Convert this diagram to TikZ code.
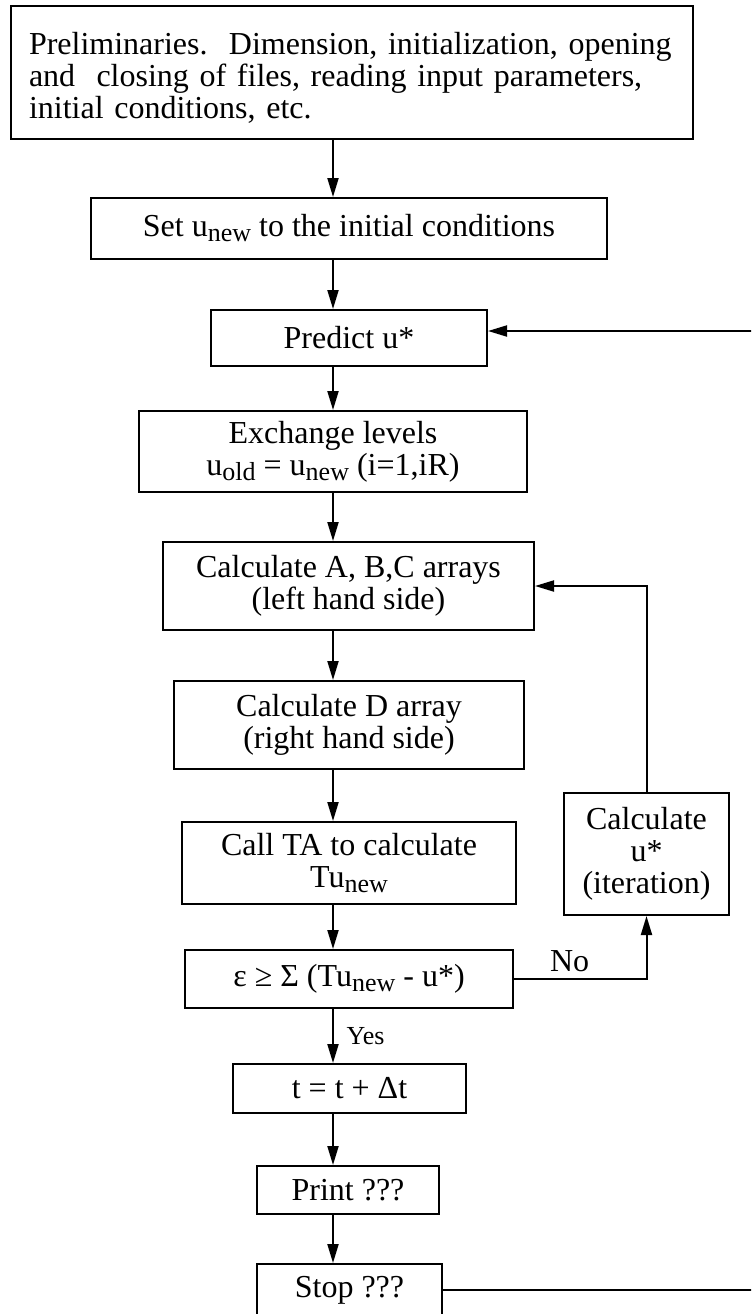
\documentclass[tikz,border=0pt]{standalone}
\usepackage{fontspec}
\setmainfont{Liberation Serif}
\usetikzlibrary{arrows.meta}

% lowered index, as in u_new
\newcommand\lo[1]{\raisebox{-2.5pt}{\fontsize{13}{13}\selectfont #1}}

\begin{document}
\begin{tikzpicture}[x=0.5pt,y=-0.5pt,line width=1pt,
  >={Triangle[length=9.5pt,width=5.5pt]},
  flow box/.style={draw,inner sep=0pt,align=center,font=\fontsize{16}{16}\selectfont},
  small label/.style={font=\fontsize{13}{13}\selectfont}]

  \useasboundingbox (0,0) rectangle (751,1314);
  \clip (0,0) rectangle (751,1314);
  \coordinate (axis) at (333,0);

  \node[flow box,minimum width=341pt,minimum height=66.5pt,text width=323pt,text height=16pt,align=left] (prelim) at (352,72.5)
    {Preliminaries.\ \ Dimension, initialization, opening\\
     and\ \ closing of files, reading input parameters,\\
     initial conditions, etc.};
  \node[flow box,minimum width=258pt,minimum height=30.5pt] (setu) at (349,228.5)
    {Set u\lo{new} to the initial conditions};
  \node[flow box,minimum width=138pt,minimum height=28pt] (predict) at (349,338) {Predict u*};
  \node[flow box,minimum width=194pt,minimum height=40.5pt] (exch) at (333,451.5)
    {Exchange levels\\u\lo{old} = u\lo{new} (i=1,iR)};
  \node[flow box,minimum width=185.5pt,minimum height=44pt] (abc) at (348.5,586)
    {Calculate A, B,C arrays\\(left hand side)};
  \node[flow box,minimum width=175pt,minimum height=44pt] (darr) at (349,725)
    {Calculate D array\\(right hand side)};
  \node[flow box,minimum width=167pt,minimum height=41pt] (callta) at (349,863)
    {Call TA to calculate\\Tu\lo{new}};
  \node[flow box,minimum width=164pt,minimum height=29pt] (test) at (349,979)
    {ε ≥ Σ (Tu\lo{new} - u*)};
  \node[flow box,minimum width=116.5pt,minimum height=24.5pt] (tstep) at (349.5,1088.5) {t = t + Δt};
  \node[flow box,minimum width=91pt,minimum height=24pt] (print) at (348,1190) {Print ???};
  \node[flow box,minimum width=92.5pt,minimum height=26pt] (stop) at (349.5,1290) {Stop ???};
  \node[flow box,minimum width=82.5pt,minimum height=61pt] (iter) at (646.5,854)
    {Calculate\\u*\\(iteration)};

  % main line
  \draw[->] (prelim.south -| axis) -- (setu.north -| axis);
  \draw[->] (setu.south -| axis) -- (predict.north -| axis);
  \draw[->] (predict.south -| axis) -- (exch.north -| axis);
  \draw[->] (exch.south -| axis) -- (abc.north -| axis);
  \draw[->] (abc.south -| axis) -- (darr.north -| axis);
  \draw[->] (darr.south -| axis) -- (callta.north -| axis);
  \draw[->] (callta.south -| axis) -- (test.north -| axis);
  \draw[->] (test.south -| axis) -- node[right,small label,xshift=3pt] {Yes} (tstep.north -| axis);
  \draw[->] (tstep.south -| axis) -- (print.north -| axis);
  \draw[->] (print.south -| axis) -- (stop.north -| axis);

  % iteration loop
  \draw[->] (test.east) -| node[pos=0.21,above,font=\fontsize{16}{16}\selectfont] {No} (iter.south);
  \draw[->] (iter.north) |- (abc.east);

  % time loop
  \draw[->] (stop.east) -- ++(350,0) |- ([yshift=3.5pt]predict.east);
\end{tikzpicture}
\end{document}
